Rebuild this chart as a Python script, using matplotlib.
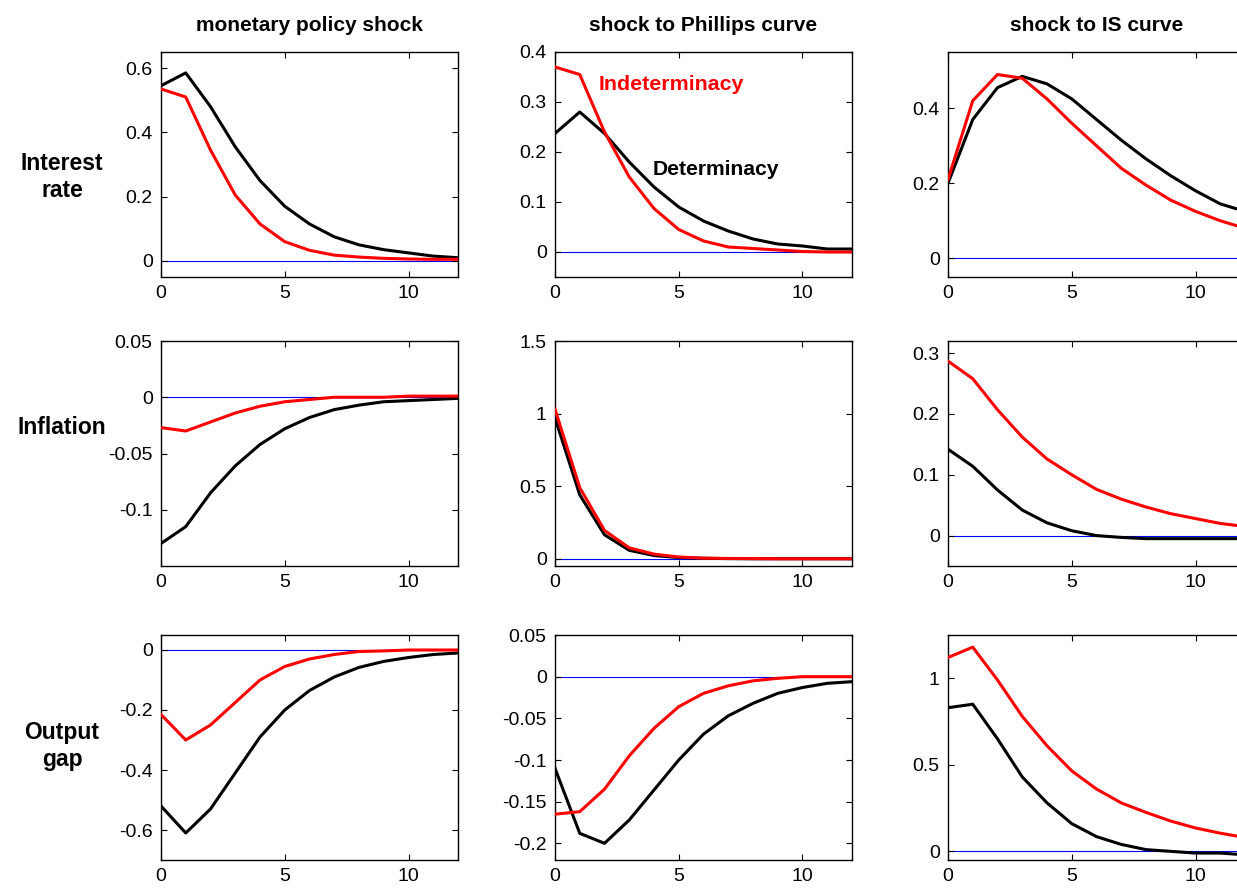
import matplotlib
matplotlib.use("Agg")
import matplotlib.pyplot as plt

plt.rcParams["font.family"] = ["Liberation Sans", "DejaVu Sans"]

horizon = list(range(13))

col_titles = ["monetary policy shock", "shock to Phillips curve", "shock to IS curve"]
row_labels = ["Interest\nrate", "Inflation", "Output\ngap"]

# determinacy (black) / indeterminacy (red) impulse responses
det = [
    [
        [0.545, 0.585, 0.48, 0.355, 0.25, 0.17, 0.115, 0.075, 0.05, 0.035, 0.025, 0.015, 0.01],
        [0.237, 0.28, 0.237, 0.18, 0.13, 0.09, 0.062, 0.042, 0.026, 0.016, 0.012, 0.006, 0.006],
        [0.2, 0.37, 0.455, 0.485, 0.465, 0.425, 0.37, 0.315, 0.265, 0.22, 0.18, 0.145, 0.125],
    ],
    [
        [-0.13, -0.115, -0.085, -0.061, -0.042, -0.028, -0.018, -0.011, -0.007, -0.004, -0.003, -0.002, -0.001],
        [0.97, 0.44, 0.165, 0.058, 0.022, 0.008, 0.003, 0.001, 0.0, 0.0, 0.0, 0.0, 0.0],
        [0.142, 0.114, 0.075, 0.042, 0.021, 0.008, 0.0, -0.003, -0.005, -0.005, -0.005, -0.005, -0.005],
    ],
    [
        [-0.52, -0.61, -0.53, -0.41, -0.29, -0.2, -0.135, -0.09, -0.058, -0.038, -0.025, -0.015, -0.01],
        [-0.11, -0.188, -0.2, -0.172, -0.136, -0.1, -0.069, -0.047, -0.032, -0.02, -0.013, -0.008, -0.006],
        [0.83, 0.85, 0.65, 0.43, 0.28, 0.16, 0.085, 0.04, 0.01, 0.0, -0.01, -0.01, -0.02],
    ],
]
indet = [
    [
        [0.535, 0.51, 0.345, 0.205, 0.115, 0.06, 0.033, 0.018, 0.012, 0.008, 0.006, 0.005, 0.005],
        [0.37, 0.355, 0.24, 0.15, 0.087, 0.045, 0.022, 0.01, 0.007, 0.004, 0.001, 0.0, 0.0],
        [0.21, 0.42, 0.49, 0.48, 0.425, 0.36, 0.3, 0.24, 0.195, 0.155, 0.125, 0.1, 0.08],
    ],
    [
        [-0.027, -0.03, -0.022, -0.014, -0.008, -0.004, -0.002, 0.0, 0.0, 0.0, 0.001, 0.001, 0.001],
        [1.03, 0.49, 0.195, 0.075, 0.032, 0.012, 0.004, 0.002, 0.001, 0.0, 0.0, 0.0, 0.0],
        [0.287, 0.258, 0.207, 0.162, 0.126, 0.1, 0.076, 0.06, 0.047, 0.036, 0.028, 0.02, 0.015],
    ],
    [
        [-0.215, -0.3, -0.25, -0.175, -0.1, -0.055, -0.03, -0.015, -0.005, -0.003, 0.0, 0.0, 0.0],
        [-0.165, -0.162, -0.135, -0.095, -0.062, -0.036, -0.02, -0.011, -0.005, -0.002, 0.0, 0.0, 0.0],
        [1.12, 1.18, 0.99, 0.78, 0.61, 0.465, 0.36, 0.28, 0.225, 0.175, 0.135, 0.105, 0.08],
    ],
]

ylims = [
    [(-0.05, 0.65), (-0.05, 0.4), (-0.05, 0.55)],
    [(-0.15, 0.05), (-0.05, 1.5), (-0.05, 0.32)],
    [(-0.7, 0.05), (-0.22, 0.05), (-0.05, 1.25)],
]
yticks = [
    [[0, 0.2, 0.4, 0.6], [0, 0.1, 0.2, 0.3, 0.4], [0, 0.2, 0.4]],
    [[-0.1, -0.05, 0, 0.05], [0, 0.5, 1, 1.5], [0, 0.1, 0.2, 0.3]],
    [[-0.6, -0.4, -0.2, 0], [-0.2, -0.15, -0.1, -0.05, 0, 0.05], [0, 0.5, 1]],
]
ytick_labels = [
    [["0", "0.2", "0.4", "0.6"], ["0", "0.1", "0.2", "0.3", "0.4"], ["0", "0.2", "0.4"]],
    [["-0.1", "-0.05", "0", "0.05"], ["0", "0.5", "1", "1.5"], ["0", "0.1", "0.2", "0.3"]],
    [["-0.6", "-0.4", "-0.2", "0"], ["-0.2", "-0.15", "-0.1", "-0.05", "0", "0.05"], ["0", "0.5", "1"]],
]

W, H = 1237, 888
fig = plt.figure(figsize=(W / 100, H / 100), dpi=100)

col_left = [161, 555, 948]
ax_w = 297
row_top = [52, 341, 635]
ax_h = 225

for r in range(3):
    for c in range(3):
        ax = fig.add_axes([col_left[c] / W, 1 - (row_top[r] + ax_h) / H, ax_w / W, ax_h / H])
        ax.axhline(0, color="#0000ff", linewidth=0.8, zorder=1)
        ax.plot(horizon, det[r][c], color="black", linewidth=2.2, zorder=2)
        ax.plot(horizon, indet[r][c], color="#ff0000", linewidth=2.2, zorder=3)
        ax.set_xlim(0, 12)
        ax.set_ylim(*ylims[r][c])
        ax.set_xticks([0, 5, 10])
        ax.set_yticks(yticks[r][c])
        ax.set_yticklabels(ytick_labels[r][c])
        ax.tick_params(direction="in", top=True, right=True, labelsize=14,
                       length=4, width=0.8, pad=6)
        for sp in ax.spines.values():
            sp.set_linewidth(1.0)
        if r == 0:
            ax.set_title(col_titles[c], fontsize=15, fontweight="bold", pad=15)
        if r == 0 and c == 1:
            ax.text(1.75, 0.336, "Indeterminacy", color="#ff0000", fontsize=15.4,
                    fontweight="bold", va="center", ha="left")
            ax.text(3.95, 0.165, "Determinacy", color="black", fontsize=15.2,
                    fontweight="bold", va="center", ha="left")

label_y = [177, 428, 746]
for r in range(3):
    fig.text(62 / W, 1 - label_y[r] / H, row_labels[r], fontsize=16.5, fontweight="bold",
             ha="center", va="center", linespacing=1.25)

fig.savefig("out.png", dpi=100, facecolor="white")
